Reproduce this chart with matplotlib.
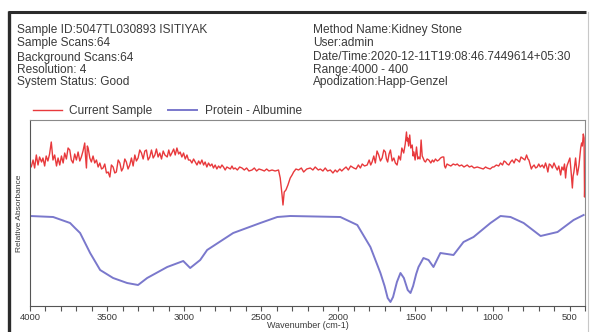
import matplotlib
matplotlib.use("Agg")
import matplotlib.pyplot as plt
from matplotlib.lines import Line2D

plt.rcParams['font.family'] = ['Liberation Sans', 'DejaVu Sans']

# ---------------- data ----------------
header_left = ["Sample ID:5047TL030893 ISITIYAK", "Sample Scans:64", "Background Scans:64",
               "Resolution: 4", "System Status: Good"]
header_right = ["Method Name:Kidney Stone", "User:admin",
                "Date/Time:2020-12-11T19:08:46.7449614+05:30", "Range:4000 - 400",
                "Apodization:Happ-Genzel"]
series_names = ["Current Sample", "Protein - Albumine"]
x_label = "Wavenumber (cm-1)"
y_label = "Relative Absorbance"
x_ticks = [4000, 3500, 3000, 2500, 2000, 1500, 1000, 500]

blue_wn = [4000, 3850, 3740, 3708, 3675, 3610, 3545, 3461, 3370, 3299, 3240, 3110, 3006,
           2961, 2896, 2851, 2682, 2506, 2396, 2312, 1987, 1877, 1792, 1727, 1700, 1680,
           1662, 1645, 1620, 1597, 1575, 1550, 1532, 1515, 1495, 1480, 1448, 1415, 1383,
           1338, 1253, 1188, 1123, 1013, 948, 883, 798, 688, 578, 474, 409]
blue_v = [90, 89, 83, 78, 73, 53, 36, 28, 23, 21, 28, 39, 45,
          38, 46, 56, 73, 83, 89, 90, 89, 81, 59, 33, 20, 8,
          4, 9, 24, 33, 28, 16, 13, 20, 32, 39, 48, 46, 39,
          53, 51, 64, 69, 83, 90, 89, 83, 70, 74, 86, 91]

red_wn = [3998, 3992, 3980, 3970, 3959, 3948, 3938, 3925, 3916, 3905, 3895, 3884, 3873, 3862,
          3851, 3840, 3828, 3818, 3807, 3796, 3785, 3775, 3764, 3753, 3742, 3732, 3721, 3710,
          3699, 3688, 3677, 3667, 3656, 3645, 3640, 3634, 3628, 3623, 3612, 3602, 3591, 3580,
          3569, 3558, 3547, 3536, 3526, 3515, 3504, 3493, 3482, 3472, 3461, 3450, 3440, 3428,
          3417, 3406, 3396, 3385, 3375, 3364, 3353, 3342, 3331, 3320, 3310, 3299, 3288, 3277,
          3266, 3255, 3245, 3234, 3223, 3212, 3201, 3190, 3180, 3169, 3158, 3147, 3136, 3125,
          3110, 3100, 3090, 3080, 3068, 3058, 3047, 3036, 3026, 3015, 3004, 2993, 2982, 2972,
          2961, 2950, 2939, 2928, 2917, 2906, 2896, 2885, 2874, 2864, 2853, 2842, 2831, 2820,
          2810, 2799, 2788, 2777, 2766, 2755, 2745, 2734, 2723, 2712, 2700, 2690, 2680, 2669,
          2655, 2640, 2625, 2610, 2595, 2580, 2560, 2545, 2530, 2515, 2495, 2480, 2465, 2450,
          2430, 2410, 2388, 2377, 2365, 2359, 2351, 2340, 2327, 2312, 2300, 2290, 2275, 2258,
          2240, 2225, 2205, 2182, 2165, 2150, 2130, 2117, 2100, 2085, 2070, 2052, 2035, 2020,
          2008, 1990, 1978, 1965, 1950, 1935, 1920, 1900, 1885, 1870, 1857, 1845, 1830, 1813,
          1800, 1790, 1781, 1770, 1760, 1749, 1738, 1727, 1716, 1705, 1695, 1688, 1680, 1671,
          1662, 1651, 1640, 1630, 1619, 1608, 1597, 1588, 1576, 1566, 1558, 1554, 1550, 1544,
          1537, 1530, 1521, 1515, 1510, 1502, 1493, 1485, 1478, 1470, 1463, 1456, 1450, 1442,
          1435, 1424, 1413, 1400, 1390, 1381, 1370, 1358, 1348, 1337, 1326, 1316, 1311, 1305,
          1295, 1284, 1270, 1255, 1240, 1229, 1215, 1200, 1185, 1164, 1150, 1135, 1120, 1099,
          1080, 1060, 1045, 1034, 1015, 1000, 991, 975, 960, 948, 935, 925, 915, 905,
          894, 883, 872, 860, 850, 839, 825, 815, 807, 790, 779, 770, 764, 755,
          748, 742, 730, 720, 710, 700, 690, 677, 666, 656, 648, 641, 632, 623,
          612, 601, 590, 580, 570, 558, 550, 541, 533, 526, 520, 515, 505, 498,
          490, 482, 477, 472, 466, 461, 455, 450, 444, 439, 433, 428, 422, 417,
          411, 406, 403, 401]
red_v = [140, 139, 146, 138, 151, 141, 149, 144, 148, 140, 150, 145, 152, 164,
         146, 151, 140, 148, 141, 150, 143, 153, 147, 158, 156, 146, 143, 152,
         146, 154, 145, 149, 155, 163, 150, 138, 160, 158, 148, 144, 150, 143,
         146, 139, 143, 137, 138, 142, 133, 134, 129, 141, 139, 133, 134, 146,
         143, 135, 138, 147, 144, 137, 141, 148, 140, 151, 145, 148, 156, 153,
         147, 155, 156, 146, 149, 156, 148, 151, 157, 149, 153, 147, 155, 151,
         149, 156, 150, 153, 157, 151, 158, 152, 154, 149, 153, 147, 151, 146,
         146, 143, 147, 144, 141, 145, 142, 146, 141, 144, 139, 143, 140, 142,
         138, 141, 137, 140, 138, 141, 139, 136, 139, 138, 137, 140, 137, 138,
         136, 139, 138, 136, 138, 135, 136, 138, 135, 137, 136, 135, 137, 135,
         136, 135, 136, 128, 111, 101, 114, 116, 121, 128, 131, 134, 137, 136,
         138, 134, 137, 138, 136, 139, 136, 137, 135, 138, 135, 136, 133, 136,
         134, 137, 135, 137, 139, 136, 140, 138, 137, 141, 138, 142, 140, 141,
         146, 141, 144, 150, 143, 155, 151, 145, 148, 156, 154, 147, 144, 152,
         156, 145, 148, 143, 141, 150, 146, 158, 153, 162, 174, 165, 168, 160,
         171, 158, 161, 150, 154, 146, 159, 147, 149, 147, 166, 150, 148, 145,
         144, 147, 146, 143, 146, 144, 147, 145, 146, 148, 149, 149, 140, 138,
         142, 141, 140, 142, 141, 142, 140, 141, 139, 141, 139, 140, 138, 139,
         138, 137, 139, 138, 137, 139, 139, 141, 140, 143, 141, 145, 144, 142,
         141, 144, 146, 143, 147, 146, 144, 149, 148, 146, 151, 147, 146, 141,
         137, 139, 141, 138, 139, 142, 139, 141, 138, 143, 139, 134, 142, 141,
         138, 143, 139, 136, 140, 131, 139, 136, 142, 128, 138, 141, 145, 148,
         134, 118, 130, 134, 142, 148, 138, 131, 136, 141, 150, 158, 163, 160,
         172, 168, 109, 122]

red_color = "#e8393c"
blue_color = "#7a78cc"
text_color = "#3a3a3a"

# ---------------- figure ----------------
W, H = 591, 332
fig = plt.figure(figsize=(W / 100, H / 100), dpi=100)
fig.patch.set_facecolor("white")

def fx(px):
    return px / W

def fy(py):
    return 1 - py / H

# panel frame
fig.add_artist(Line2D([fx(9.5), fx(9.5)], [0, fy(11)], color="#2b2b2b", lw=2.4,
                      transform=fig.transFigure, solid_capstyle="butt"))
fig.add_artist(Line2D([fx(8.3), fx(586)], [fy(11.5), fy(11.5)], color="#2b2b2b", lw=2.2,
                      transform=fig.transFigure, solid_capstyle="butt"))
fig.add_artist(Line2D([fx(588), fx(588)], [0, fy(12)], color="#c8c8c8", lw=0.8,
                      transform=fig.transFigure))

# header text
ys = [30.5, 43, 57.5, 70, 82]
for t, y in zip(header_left, ys):
    fig.text(fx(17), fy(y), t, fontsize=8.6, color=text_color, va="center", ha="left")
for t, y in zip(header_right, ys):
    fig.text(fx(313), fy(y), t, fontsize=8.6, color=text_color, va="center", ha="left")

# axes
ax = fig.add_axes([fx(30), fy(306), fx(585) - fx(30), fy(120) - fy(306)])
ax.plot(red_wn, red_v, color=red_color, lw=1.0, label=series_names[0])
ax.plot(blue_wn, blue_v, color=blue_color, lw=1.4, label=series_names[1])
ax.set_xlim(4000, 400)
ax.set_ylim(0, 186)
ax.set_xticks(x_ticks)
ax.set_xticks(range(4000, 399, -100), minor=True)
ax.set_yticks([])
ax.tick_params(axis="x", which="both", direction="out", length=3.5, width=0.8,
               colors="#555555", labelsize=6.8, pad=1.5, labelcolor=text_color)
for s in ax.spines.values():
    s.set_color("#8a8a8a")
    s.set_linewidth(0.8)
ax.spines["bottom"].set_color("#555555")
ax.spines["left"].set_color("#555555")
ax.set_xlabel(x_label, fontsize=6.5, color=text_color, labelpad=-0.5)
ax.set_ylabel(y_label, fontsize=6.0, color=text_color, labelpad=5)

leg = ax.legend(loc="lower left", bbox_to_anchor=(0.0, 1.0), ncol=2, frameon=False,
                fontsize=8.6, handlelength=2.4, handletextpad=0.65, columnspacing=1.3,
                borderaxespad=0.05, borderpad=0.2)
for t in leg.get_texts():
    t.set_color(text_color)

fig.savefig("out.png", dpi=100, facecolor="white")
